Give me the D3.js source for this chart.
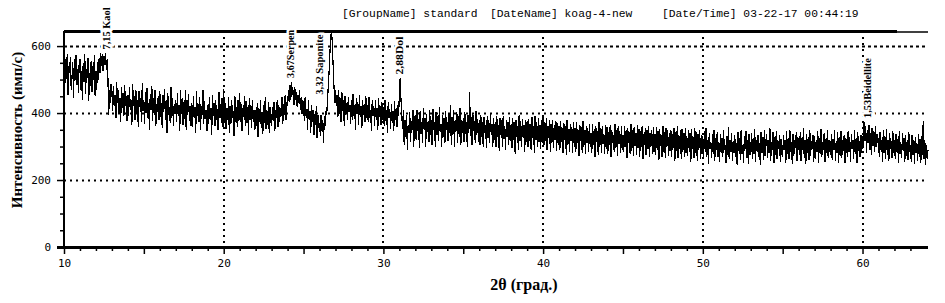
<!DOCTYPE html>
<html>
<head>
<meta charset="utf-8">
<script src="https://cdn.jsdelivr.net/npm/d3@7/dist/d3.min.js"></script>
<style>
  html, body { margin: 0; padding: 0; background: #fff; }
  svg { display: block; }
</style>
</head>
<body>
<svg id="chart" width="945" height="303"></svg>
<script>
// ---------- data ----------
const twoThetaStart = 10;
const twoThetaStep = 0.05;
const intensity = [
  // 10
  545,478,562,502,575,455,540,520,568,470,505,552,445,560,498,572,485,530,460,548,
  // 11
  560,470,525,440,548,492,575,458,530,505,565,435,520,482,555,462,540,498,572,450,
  // 12
  525,470,552,498,565,520,578,540,575,525,570,545,580,530,560,505,395,470,430,488,
  // 13
  465,405,482,420,455,385,492,430,470,398,445,372,478,415,460,390,485,420,452,375,
  // 14
  455,392,478,410,440,365,488,420,452,380,470,400,438,358,465,418,445,372,490,405,
  // 15
  440,368,462,400,475,385,430,350,458,410,482,375,445,395,468,360,428,402,452,380,
  // 16
  465,388,430,355,455,402,472,378,438,340,460,395,418,370,478,385,445,362,428,398,
  // 17
  438,372,460,390,425,345,470,398,445,365,432,382,468,350,440,395,458,375,420,360,
  // 18
  430,358,452,385,418,340,465,392,428,372,448,350,420,395,470,368,435,382,410,345,
  // 19
  425,368,448,380,415,335,455,390,430,362,440,378,412,348,462,385,428,370,445,358,
  // 20
  472,375,430,352,415,380,448,340,420,368,438,385,405,330,452,372,418,358,440,375,
  // 21
  460,372,428,345,415,388,450,362,435,370,418,335,445,380,425,355,438,372,410,348,
  // 22
  408,362,430,328,415,372,440,355,402,338,425,370,448,352,410,365,432,340,418,375,
  // 23
  362,418,375,432,345,410,385,440,358,425,372,415,390,448,368,428,395,455,380,432,
  // 24
  420,468,432,485,440,492,455,470,425,478,440,462,418,455,430,470,410,448,398,440,
  // 25
  425,375,448,390,412,350,438,380,405,340,425,372,410,335,398,365,420,325,395,355,
  // 26
  370,332,395,345,380,310,390,360,405,395,440,480,525,580,628,645,610,545,485,430,
  // 27
  468,420,455,388,470,398,445,372,462,405,438,360,452,395,430,378,448,402,425,368,
  // 28
  440,380,458,392,425,350,445,398,432,365,455,388,420,355,440,395,428,372,450,385,
  // 29
  425,372,448,385,410,345,440,392,422,360,438,380,415,350,445,388,420,365,432,378,
  // 30
  418,362,440,375,408,340,432,385,412,352,428,370,405,345,435,380,415,358,425,390,
  // 31
  455,505,440,395,352,410,305,380,330,395,290,365,340,402,315,375,350,410,300,385,
  // 32
  395,320,410,345,382,295,405,338,372,310,415,350,385,300,398,342,375,315,408,335,
  // 33
  380,305,412,348,372,298,402,335,390,318,418,345,368,300,395,330,385,310,405,350,
  // 34
  372,318,398,340,425,305,388,335,410,298,380,345,402,312,392,328,415,305,378,340,
  // 35
  385,315,402,338,372,300,395,340,462,330,388,305,398,345,375,310,405,335,382,315,
  // 36
  378,305,395,330,372,298,388,340,365,295,392,325,380,310,398,335,368,300,385,320,
  // 37
  372,300,390,328,365,288,385,335,378,298,392,322,360,290,380,330,372,305,388,318,
  // 38
  368,295,385,320,372,278,380,330,362,290,395,318,375,300,382,325,365,285,378,315,
  // 39
  375,298,382,318,368,290,388,325,360,282,392,320,372,298,385,315,365,292,378,310,
  // 40
  395,305,372,318,385,290,362,325,378,285,368,312,380,295,365,320,375,288,370,305,
  // 41
  362,290,375,315,355,280,370,320,360,275,378,305,352,285,368,318,358,282,372,300,
  // 42
  355,285,372,310,350,272,365,318,358,280,375,300,348,278,362,312,355,285,368,298,
  // 43
  340,282,368,305,352,268,362,315,345,275,372,298,355,280,360,308,338,278,365,292,
  // 44
  358,278,342,305,365,270,348,312,335,285,368,295,350,272,360,308,345,282,362,290,
  // 45
  335,285,362,298,348,265,355,310,342,278,368,288,350,272,358,302,340,275,365,295,
  // 46
  352,270,345,300,360,262,338,305,355,275,348,292,362,268,340,300,350,278,358,285,
  // 47
  338,275,358,290,345,260,352,302,335,270,362,285,342,265,355,298,348,272,340,288,
  // 48
  350,268,338,295,355,258,342,288,360,265,335,292,348,262,352,285,340,270,355,280,
  // 49
  332,272,348,285,340,255,352,292,328,265,355,280,342,258,338,290,350,262,335,278,
  // 50
  330,262,345,285,355,270,318,248,340,292,312,265,338,278,350,258,325,290,342,270,
  // 51
  312,255,338,280,325,268,348,290,305,250,332,275,358,262,320,285,340,258,315,282,
  // 52
  335,270,310,245,342,288,325,260,350,278,305,252,330,292,345,265,318,248,338,275,
  // 53
  290,340,262,325,278,352,255,318,285,335,268,310,245,342,280,328,260,348,272,315,
  // 54
  338,265,320,282,355,258,312,290,342,250,328,275,345,262,318,292,335,255,322,280,
  // 55
  268,335,290,318,252,345,278,325,262,350,285,312,248,338,272,320,295,342,258,328,
  // 56
  312,275,342,258,325,290,355,265,318,248,338,282,328,260,348,272,315,292,335,255,
  // 57
  330,262,318,285,345,250,325,278,352,268,312,290,340,255,322,280,348,265,318,292,
  // 58
  275,338,260,322,290,350,258,315,282,342,252,328,272,345,265,318,288,335,250,325,
  // 59
  312,270,345,285,328,255,338,292,318,262,350,278,325,250,342,288,315,268,335,282,
  // 60
  330,295,372,318,360,280,348,310,365,290,340,275,355,302,345,285,362,298,338,310,
  // 61
  325,268,342,290,318,255,348,282,330,262,352,275,320,258,340,292,315,265,345,280,
  // 62
  318,262,338,285,322,250,345,278,312,265,340,288,325,255,335,272,318,260,342,285,
  // 63
  305,255,335,275,318,248,328,282,310,258,338,270,322,252,330,275,375,262,320,245,
  // 64
  305,262,290
];

const xDomain = [10, 64.1];
const yDomain = [0, 645];
const xMajorTicks = [10, 20, 30, 40, 50, 60];
const yMajorTicks = [0, 200, 400, 600];
const xGridValues = [20, 30, 40, 50, 60];
const yGridValues = [200, 400, 600];

const peakLabels = ["7,15 Kaol", "3,67Serpen", "3,32 Saponite", "2,88Dol", "1,53Beidellite"];
const peakLabelTheta = [12.6, 24.15, 25.95, 31.0, 60.3];
const peakLabelIntensity = [590, 505, 455, 515, 385];
const peakLabelLength = [42, 48, 60, 38, 60];

const titleParts = ["[GroupName] standard", "[DateName] koag-4-new", "[Date/Time] 03-22-17 00:44:19"];
const yTitle = "Интенсивность (имп/с)";
const xTitle = "2θ (град.)";

// ---------- layout ----------
const svg = d3.select("#chart");
const pLeft = 64, pRight = 928, pTop = 31, pBottom = 247;

const x = d3.scaleLinear().domain(xDomain).range([pLeft, pRight]);
const y = d3.scaleLinear().domain(yDomain).range([pBottom, pTop]);

const points = intensity.map((v, i) => [twoThetaStart + i * twoThetaStep, v]);

// grid
const gGrid = svg.append("g");
gGrid.selectAll("line.h").data(yGridValues).join("line")
  .attr("x1", pLeft).attr("x2", pRight)
  .attr("y1", d => Math.round(y(d)) + 0.5).attr("y2", d => Math.round(y(d)) + 0.5)
  .attr("stroke", "#000").attr("stroke-width", 2)
  .attr("stroke-dasharray", d => d === 600 ? "3,3" : "2,4");
gGrid.selectAll("line.v").data(xGridValues).join("line")
  .attr("x1", d => Math.round(x(d))).attr("x2", d => Math.round(x(d)))
  .attr("y1", pTop).attr("y2", pBottom)
  .attr("stroke", "#000").attr("stroke-width", 2)
  .attr("stroke-dasharray", "2,4");

// top frame line
svg.append("line").attr("x1", pLeft).attr("x2", 897).attr("y1", pTop + 0.5).attr("y2", pTop + 0.5)
  .attr("stroke", "#000").attr("stroke-width", 3);
svg.append("line").attr("x1", 897).attr("x2", pRight).attr("y1", pTop + 1).attr("y2", pTop + 1)
  .attr("stroke", "#000").attr("stroke-width", 1.5);

// peak labels (with white halo to cut frame/grid)
svg.append("g").selectAll("text").data(peakLabels).join("text")
  .attr("transform", (d, i) => `translate(${x(peakLabelTheta[i]) + 4},${y(peakLabelIntensity[i])}) rotate(-90)`)
  .attr("font-family", "Liberation Serif, serif")
  .attr("font-weight", "bold")
  .attr("font-size", 11)
  .attr("textLength", (d, i) => peakLabelLength[i])
  .attr("lengthAdjust", "spacingAndGlyphs")
  .attr("stroke", "#fff").attr("stroke-width", 5).attr("paint-order", "stroke")
  .attr("fill", "#000")
  .text(d => d);

// data line
svg.append("path")
  .datum(points)
  .attr("fill", "none")
  .attr("stroke", "#000")
  .attr("stroke-width", 1.2)
  .attr("shape-rendering", "crispEdges")
  .attr("d", d3.line().x(d => x(d[0])).y(d => y(d[1])));

// x axis
const xMinor = d3.axisBottom(x).tickValues(d3.range(11, 64, 1).filter(v => v % 5 !== 0)).tickSize(3).tickFormat("");
const xMid = d3.axisBottom(x).tickValues([15, 25, 35, 45, 55]).tickSize(6).tickFormat("");
const xMajor = d3.axisBottom(x).tickValues(xMajorTicks).tickSize(6).tickFormat(d3.format("d"));
[xMinor, xMid].forEach(ax => {
  const g = svg.append("g").attr("transform", `translate(0,${pBottom + 1})`).call(ax);
  g.select(".domain").remove();
  g.selectAll(".tick line").attr("stroke", "#000").attr("stroke-width", 1.5);
});
const gx = svg.append("g").attr("transform", `translate(0,${pBottom + 1})`).call(xMajor);
gx.select(".domain").remove();
gx.selectAll(".tick line").attr("stroke", "#000").attr("stroke-width", 1.5);
gx.selectAll(".tick text").attr("font-family", "DejaVu Sans Mono, monospace").attr("font-size", 11)
  .attr("fill", "#000").attr("dy", "0.95em").attr("y", 9);
svg.append("line").attr("x1", 57).attr("x2", pRight).attr("y1", pBottom + 0.5).attr("y2", pBottom + 0.5)
  .attr("stroke", "#000").attr("stroke-width", 3);

// y axis
const yMinor = d3.axisLeft(y).tickValues(d3.range(50, 650, 50).filter(v => v % 200 !== 0)).tickSize(4).tickFormat("");
const yMajor = d3.axisLeft(y).tickValues(yMajorTicks).tickSize(7).tickFormat(d3.format("d"));
const gym = svg.append("g").attr("transform", `translate(${pLeft},0)`).call(yMinor);
gym.select(".domain").remove();
gym.selectAll(".tick line").attr("stroke", "#000").attr("stroke-width", 1.5);
const gy = svg.append("g").attr("transform", `translate(${pLeft},0)`).call(yMajor);
gy.select(".domain").remove();
gy.selectAll(".tick line").attr("stroke", "#000").attr("stroke-width", 1.5);
gy.selectAll(".tick text").attr("font-family", "DejaVu Sans Mono, monospace").attr("font-size", 11)
  .attr("fill", "#000").attr("x", -13);
svg.append("line").attr("x1", pLeft).attr("x2", pLeft).attr("y1", pTop).attr("y2", pBottom + 2)
  .attr("stroke", "#000").attr("stroke-width", 2);

// title
const titleX = [342, 490, 662];
svg.append("g").selectAll("text").data(titleParts).join("text")
  .attr("x", (d, i) => titleX[i]).attr("y", 17)
  .attr("font-family", "Liberation Mono, Courier New, monospace")
  .attr("font-size", 11.3)
  .attr("fill", "#000")
  .text(d => d);

// axis titles
svg.append("text")
  .attr("transform", `translate(22,${(52 + 208) / 2}) rotate(-90)`)
  .attr("text-anchor", "middle")
  .attr("font-family", "Liberation Serif, Times New Roman, serif")
  .attr("font-weight", "bold").attr("font-size", 15)
  .attr("fill", "#000")
  .text(yTitle);
svg.append("text")
  .attr("x", 524).attr("y", 290)
  .attr("text-anchor", "middle")
  .attr("font-family", "Liberation Serif, Times New Roman, serif")
  .attr("font-weight", "bold").attr("font-size", 16)
  .attr("fill", "#000")
  .text(xTitle);
</script>
</body>
</html>
